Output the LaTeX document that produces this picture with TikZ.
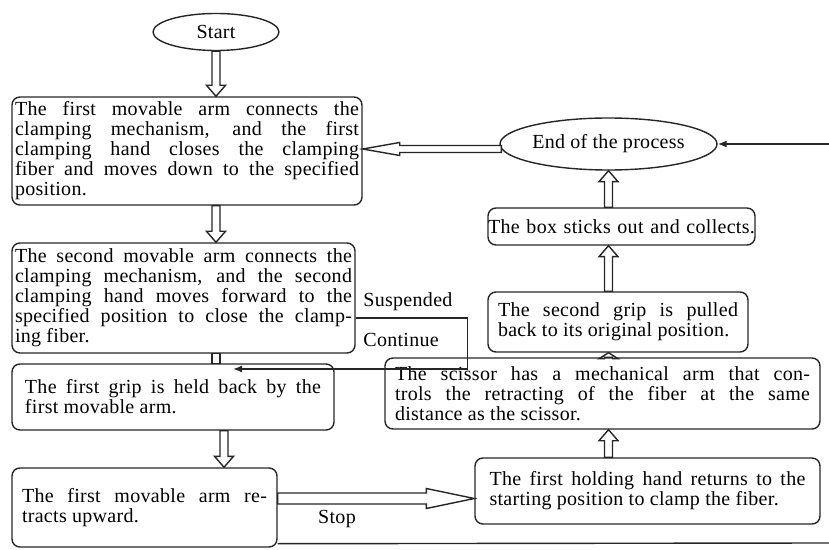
\documentclass[tikz,border=0pt]{standalone}
\usepackage{fontspec}
\setmainfont[LetterSpace=1.5]{Liberation Serif}
\usetikzlibrary{calc,arrows.meta,shapes.geometric}

\tikzset{
  conn/.style={draw=black!85, line width=0.7pt},
  stepbox/.style={draw=black!85, line width=0.7pt, rounded corners=4pt,
    align=justify, inner ysep=2pt, font=\fontsize{10}{10}\selectfont},
  oval/.style={ellipse, draw=black!85, line width=0.7pt, inner sep=0pt,
    font=\fontsize{10}{10}\selectfont},
  lbl/.style={inner sep=0pt, font=\fontsize{10}{10}\selectfont}
}

% hollow block arrow: {head length}{shaft half}{head half}{from}{to}
\newcommand{\fatarrow}[5]{%
  \draw[conn, fill=white]
    ($(#4)!#2!90:(#5)$) --
    ($(#5)!#1!(#4)!#2!90:(#5)$) --
    ($(#5)!#1!(#4)!#3!90:(#5)$) --
    (#5) --
    ($(#5)!#1!(#4)!#3!-90:(#5)$) --
    ($(#5)!#1!(#4)!#2!-90:(#5)$) --
    ($(#4)!#2!-90:(#5)$) -- cycle;
}

\begin{document}
\begin{tikzpicture}[x=0.5pt, y=-0.5pt]

    \useasboundingbox (0,0) rectangle (829,550);

    % Left column
    \node[oval, minimum width=63pt, minimum height=18.5pt] (start) at (216,32) {Start};

    \node[stepbox, text width=172pt, inner xsep=1.5pt, minimum height=54pt] (b1) at (187,151)
      {The first movable arm connects the\linebreak
       clamping mechanism, and the first\linebreak
       clamping hand closes the clamping\linebreak
       fiber and moves down to the specified\linebreak
       position.};

    \node[stepbox, text width=168.5pt, inner xsep=1.5pt, minimum height=55pt] (b2) at (183.5,298)
      {The second movable arm connects the\linebreak
       clamping mechanism, and the second\linebreak
       clamping hand moves forward to the\linebreak
       specified position to close the clamp-\linebreak
       ing fiber.};

    \node[stepbox, text width=148pt, inner xsep=6.5pt, minimum height=33pt] (b3) at (173,397)
      {The first grip is held back by the\linebreak
       first movable arm.};

    \node[stepbox, text width=122.5pt, inner xsep=5pt, minimum height=39.5pt] (b4) at (144.5,507.5)
      {The first movable arm re-\linebreak
       tracts upward.};

    % Right column
    \node[oval, minimum width=108.5pt, minimum height=26pt] (end) at (608.5,144) {End of the process};

    \node[stepbox, text width=138pt, inner xsep=-2.25pt, align=center, minimum height=18.5pt] (b5) at (621.5,226.5)
      {The box sticks out and collects.};

    \node[stepbox, text width=120pt, inner xsep=5pt, minimum height=30pt] (b6) at (618,322)
      {The second grip is pulled\linebreak
       back to its original position.};

    \node[stepbox, text width=207.5pt, inner xsep=5pt, minimum height=35.5pt] (b7) at (602.5,393.5)
      {\leftskip=16.5pt The scissor has a mechanical arm that con-\linebreak
       trols the retracting of the fiber at the same\linebreak
       distance as the scissor.};

    \node[stepbox, text width=158pt, inner xsep=7.25pt, minimum height=33pt] (b8) at (647.5,491)
      {The first holding hand returns to the\linebreak
       starting position to clamp the fiber.};

    % Connector ends
    \coordinate (d1) at (b1.north -| start.south);
    \coordinate (u2) at (b1.south -| start.south);
    \coordinate (d2) at (b2.north -| start.south);
    \coordinate (u3) at (b2.south -| start.south);
    \coordinate (d3) at (b3.north -| start.south);
    \coordinate (u4) at ($(b3.south)+(51,0)$);
    \coordinate (d4) at (b4.north -| u4);
    \coordinate (t0) at ($(b4.east)+(0,-9)$);
    \coordinate (t1) at (b8.west |- t0);
    \coordinate (w0) at ($(end.west)+(2,5)$);
    \coordinate (w1) at (b1.east |- w0);
    \coordinate (cont) at (233,369);
    \coordinate (r1) at (829,543);
    \coordinate (r2) at (829,144);

    % Hollow arrows, left
    \fatarrow{5.5pt}{2pt}{4.75pt}{start.south}{d1}
    \fatarrow{5.5pt}{2pt}{4.75pt}{u2}{d2}
    \draw[conn, fill=white] ($(u3)+(-4,0)$) rectangle ($(d3)+(4,0)$);
    \fatarrow{5.5pt}{2pt}{4.75pt}{u4}{d4}

    % Hollow arrows, right
    \fatarrow{5.5pt}{2pt}{4.75pt}{b8.north -| end.south}{b7.south -| end.south}
    \fatarrow{3pt}{2pt}{4.75pt}{b7.north -| end.south}{b6.south -| end.south}
    \fatarrow{5.5pt}{2pt}{4.75pt}{b6.north -| end.south}{b5.south -| end.south}
    \fatarrow{5.5pt}{2pt}{4.75pt}{b5.north -| end.south}{end.south}

    % Hollow arrows, across
    \fatarrow{24pt}{2.75pt}{5pt}{t0}{t1}
    \fatarrow{18.5pt}{1.75pt}{3.25pt}{w0}{w1}

    % Suspended / Continue
    \draw[conn, -{Latex[length=4.5pt,width=3.5pt]}] ($(b2.east)+(0,20)$) -- ++(112,0) |- (cont);
    \node[lbl, anchor=west] (susp) at (363,302) {Suspended};
    \node[lbl, anchor=west] (goon) at (363,340) {Continue};

    % Stop, back to the end
    \node[lbl] (stop) at (337,519) {Stop};
    \draw[conn] ($(b4.south east)+(0,-4)$) -- (r1);
    \draw[conn, -{Latex[length=4.5pt,width=3.5pt]}] (r2) -- (end.east);

\end{tikzpicture}
\end{document}
